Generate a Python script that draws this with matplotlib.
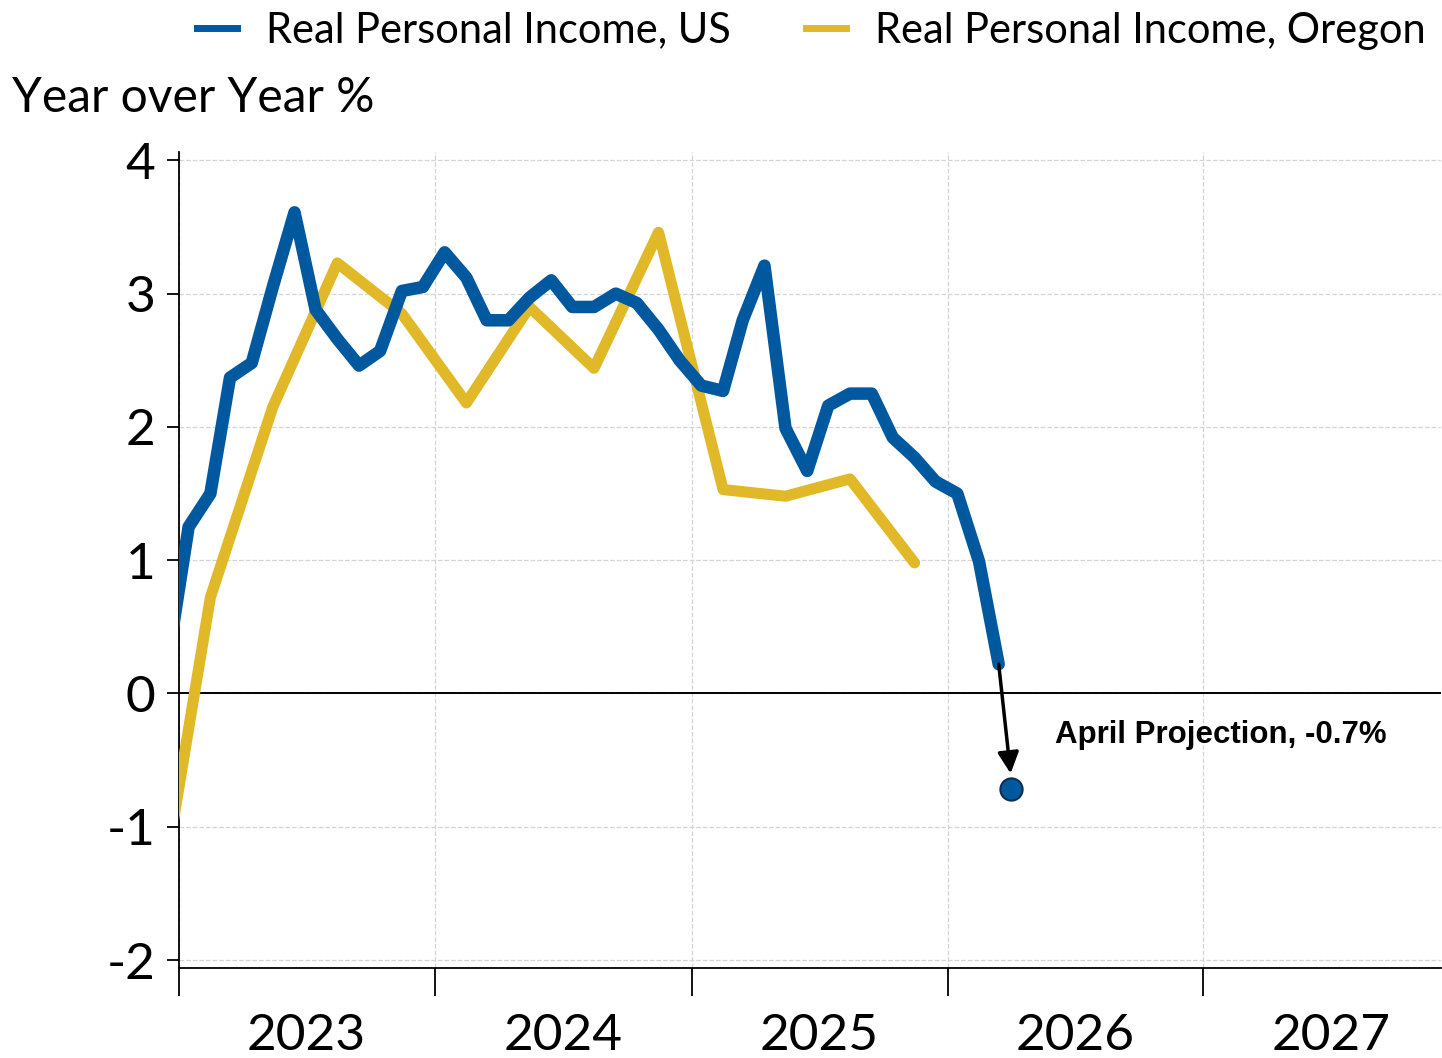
import pandas as pd
import matplotlib.pyplot as plt
from matplotlib.lines import Line2D

plt.rcParams['font.family'] = ['Lato', 'DejaVu Sans']
plt.rcParams['axes.unicode_minus'] = False

# US real personal income, y/y %, monthly (Dec 2022 - Mar 2026)
us_months = pd.date_range('2022-12-01', '2026-03-01', freq='MS') + pd.Timedelta(days=14)
us_values = [0.2,
             1.25, 1.5, 2.37, 2.48, 3.05, 3.61, 2.88, 2.66, 2.46, 2.57, 3.02, 3.05,
             3.31, 3.12, 2.8, 2.8, 2.97, 3.1, 2.9, 2.9, 3.0, 2.93, 2.73, 2.5,
             2.31, 2.27, 2.8, 3.21, 1.99, 1.67, 2.16, 2.25, 2.25, 1.92, 1.77, 1.59,
             1.5, 0.99, 0.22]

# Oregon real personal income, y/y %, quarterly (Q4 2022 - Q4 2025)
or_quarters = pd.date_range('2022-11-01', '2025-11-01', freq='3MS') + pd.Timedelta(days=14)
or_values = [-2.2, 0.72, 2.15, 3.23, 2.85, 2.18, 2.9, 2.44, 3.46, 1.53, 1.48, 1.61, 0.98]

proj_date = pd.Timestamp('2026-04-01')
proj_value = -0.72

years = [2023, 2024, 2025, 2026, 2027]

blue = '#00599F'
gold = '#E1B928'

fig = plt.figure(figsize=(14.42, 10.58), dpi=100)
ax = fig.add_axes([0.124, 0.085, 0.875, 0.771])

ax.plot(us_months, us_values, color=blue, lw=9, solid_joinstyle='round',
        solid_capstyle='round', zorder=4)
ax.plot(or_quarters, or_values, color=gold, lw=8, solid_joinstyle='round',
        solid_capstyle='round', zorder=3)

ax.axhline(0, color='black', lw=1.4, zorder=2)

# projection point + arrow
ax.annotate('', xy=(proj_date, -0.6), xytext=(us_months[-1], us_values[-1]),
            arrowprops=dict(arrowstyle='-|>', color='black', lw=2.5, mutation_scale=32,
                            shrinkA=0, shrinkB=0), zorder=5)
ax.plot([proj_date], [proj_value], 'o', ms=16, mfc=blue, mec='#0b2f4f', mew=1.5, zorder=6)
ax.text(pd.Timestamp('2026-06-03'), -0.31, 'April Projection, -0.7%', fontsize=22.5,
        fontweight='bold', family=['Liberation Sans', 'DejaVu Sans'], va='center', ha='left')

ax.set_xlim(pd.Timestamp('2023-01-01'), pd.Timestamp('2027-12-05'))
ax.set_ylim(-2.06, 4.06)

# year boundaries as major ticks, year labels in the middle
ax.set_xticks([pd.Timestamp(f'{y}-01-01') for y in years])
ax.set_xticklabels([])
ax.set_xticks([pd.Timestamp(f'{y}-07-02') for y in years], minor=True)
ax.set_xticklabels([str(y) for y in years], minor=True, fontsize=37)
ax.tick_params(axis='x', which='major', length=20, width=1.3, direction='out')
ax.tick_params(axis='x', which='minor', length=0, pad=32)

ax.set_yticks(range(-2, 5))
ax.tick_params(axis='y', length=9, width=1.3, pad=8, labelsize=37)

ax.grid(True, which='major', color='#d4d4d4', ls='--', lw=0.9, zorder=0)

for s in ['top', 'right']:
    ax.spines[s].set_visible(False)
ax.spines['left'].set_linewidth(1.3)
ax.spines['bottom'].set_linewidth(1.3)

fig.text(0.008, 0.907, 'Year over Year %', fontsize=34.5, va='center', ha='left')

handles = [Line2D([], [], color=blue, lw=5), Line2D([], [], color=gold, lw=5)]
fig.legend(handles, ['Real Personal Income, US', 'Real Personal Income, Oregon'],
           loc='center', bbox_to_anchor=(0.5625, 0.971), ncol=2, frameon=False,
           fontsize=30, handlelength=0.96, handletextpad=0.7, columnspacing=1.8)

fig.savefig('out.png', dpi=100)
